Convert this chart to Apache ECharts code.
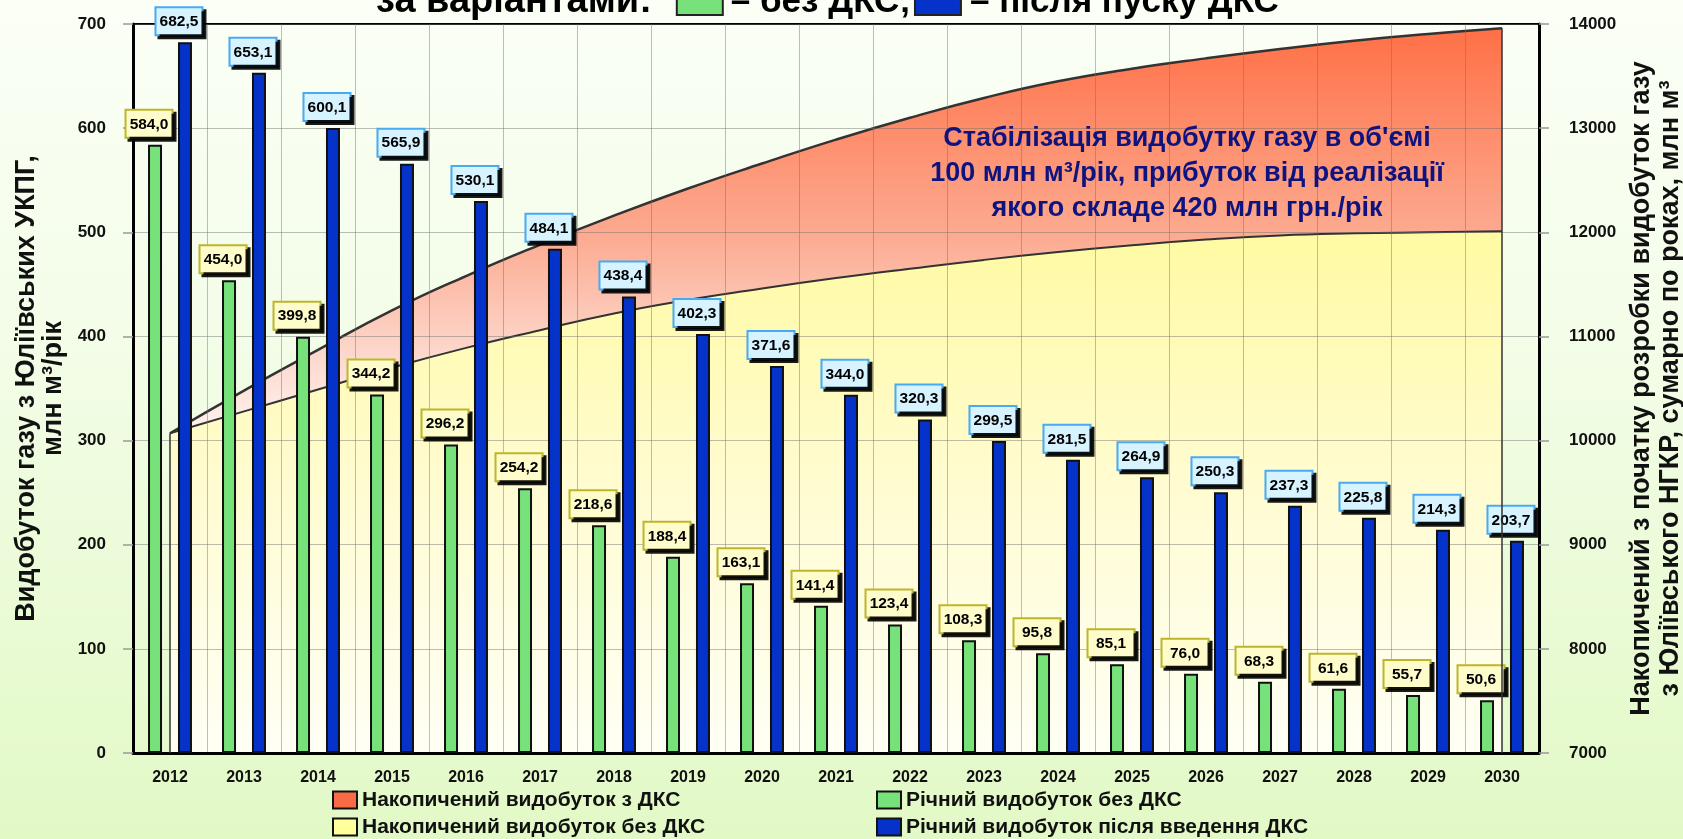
<!DOCTYPE html>
<html>
<head>
<meta charset="utf-8">
<script src="https://cdn.jsdelivr.net/npm/echarts@6.0.0/dist/echarts.min.js"></script>
<style>
  html, body { margin: 0; padding: 0; }
  body { background: linear-gradient(to bottom, #fbfff6 0%, #f3fde8 40%, #e2f9c6 100%); }
  #main { width: 1683px; height: 839px; }
</style>
</head>
<body>
<div id="main"></div>
<script>
var years = ['2012', '2013', '2014', '2015', '2016', '2017', '2018', '2019', '2020', '2021',
	'2022', '2023', '2024', '2025', '2026', '2027', '2028', '2029', '2030'];
// річний видобуток, млн м3/рік
var annualNoDks = [584.0, 454.0, 399.8, 344.2, 296.2, 254.2, 218.6, 188.4, 163.1, 141.4,
	123.4, 108.3, 95.8, 85.1, 76.0, 68.3, 61.6, 55.7, 50.6];
var annualDks = [682.5, 653.1, 600.1, 565.9, 530.1, 484.1, 438.4, 402.3, 371.6, 344.0,
	320.3, 299.5, 281.5, 264.9, 250.3, 237.3, 225.8, 214.3, 203.7];
// накопичений видобуток, млн м3 (права вісь)
var cumDks = [10070, 10480, 10870, 11250, 11580, 11880, 12160, 12420, 12660, 12890,
	13100, 13290, 13450, 13570, 13670, 13760, 13840, 13905, 13960];
var cumNoDks = [10070, 10280, 10490, 10700, 10890, 11060, 11220, 11350, 11460, 11560,
	11650, 11735, 11810, 11875, 11930, 11970, 11990, 12000, 12010];

var narrow = '"Liberation Sans Narrow", "Arial Narrow", "Liberation Sans", Arial';
var sans = '"Liberation Sans", Arial';

var myChart = echarts.init(document.getElementById('main'));

function fmt(p) {
	return p.value.toFixed(1).replace('.', ',');
}

function boxLabel(bg, border) {
	return {
		show: true,
		position: 'top',
		distance: 8,
		offset: [-6, 0],
		formatter: fmt,
		color: '#000',
		fontFamily: sans,
		fontWeight: 'bold',
		fontSize: 15.5,
		lineHeight: 19,
		width: 39,
		align: 'center',
		padding: [4, 3, 3, 3],
		backgroundColor: bg,
		borderColor: border,
		borderWidth: 2,
		shadowColor: 'rgba(0,0,0,0.9)',
		shadowOffsetX: 3,
		shadowOffsetY: 3,
		shadowBlur: 0
	};
}

var legendText = {fontFamily: narrow, fontWeight: 'bold', fontSize: 21, lineHeight: 22, color: '#111'};

var option = {
	backgroundColor: 'transparent',
	animation: false,
	title: {
		text: '{t1|за варіантами:}{s1| }{g| }{s2| }– без ДКС;{s3| }{b| }{s4| }– після пуску ДКС',
		left: 376,
		top: -16,
		padding: 0,
		textStyle: {
			fontFamily: narrow,
			fontWeight: 'bold',
			fontSize: 35,
			lineHeight: 36,
			color: '#000',
			rich: {
				t1: {fontFamily: narrow, fontWeight: 'bold', fontSize: 38, color: '#000'},
				s1: {width: 26},
				s2: {width: 9},
				s3: {width: 5},
				s4: {width: 10},
				g: {width: 44, height: 24, backgroundColor: '#78e27a', borderColor: '#222', borderWidth: 2},
				b: {width: 44, height: 24, backgroundColor: '#0532c8', borderColor: '#222', borderWidth: 2}
			}
		}
	},
	legend: [{
		left: 332,
		top: 789,
		height: 60,
		padding: 0,
		orient: 'vertical',
		icon: 'rect',
		itemWidth: 24,
		itemHeight: 17,
		itemGap: 5,
		itemStyle: {borderColor: '#111', borderWidth: 2},
		textStyle: legendText,
		data: ['Накопичений видобуток з ДКС', 'Накопичений видобуток без ДКС']
	}, {
		left: 876,
		top: 789,
		height: 60,
		padding: 0,
		orient: 'vertical',
		icon: 'rect',
		itemWidth: 24,
		itemHeight: 17,
		itemGap: 5,
		itemStyle: {borderColor: '#111', borderWidth: 2},
		textStyle: legendText,
		data: ['Річний видобуток без ДКС', 'Річний видобуток після введення ДКС']
	}],
	grid: {
		left: 133,
		right: 144,
		top: 24,
		bottom: 86,
		containLabel: false,
		outerBoundsMode: 'none',
		show: true,
		borderColor: '#000',
		borderWidth: 2,
		backgroundColor: 'transparent'
	},
	xAxis: {
		type: 'category',
		data: years,
		z: 1,
		axisLine: {lineStyle: {color: '#000', width: 3}},
		axisTick: {length: 9, lineStyle: {color: '#999', width: 1.5}},
		axisLabel: {color: '#111', fontFamily: sans, fontWeight: 'bold', fontSize: 16, margin: 17},
		splitLine: {show: true, lineStyle: {color: 'rgba(110,110,110,0.45)', width: 1}}
	},
	yAxis: [{
		type: 'value',
		min: 0,
		max: 700,
		interval: 100,
		z: 1,
		name: 'Видобуток газу з Юліївських УКПГ,\nмлн м³/рік',
		nameLocation: 'middle',
		nameRotate: 90,
		nameGap: 65,
		nameTextStyle: {color: '#111', fontFamily: sans, fontWeight: 'bold', fontSize: 27, lineHeight: 27},
		axisLine: {show: true, lineStyle: {color: '#000', width: 3}},
		axisTick: {show: true, length: 10, lineStyle: {color: '#999', width: 1.5}},
		axisLabel: {color: '#111', fontFamily: sans, fontWeight: 'bold', fontSize: 17, margin: 27},
		splitLine: {show: true, lineStyle: {color: 'rgba(110,110,110,0.45)', width: 1}}
	}, {
		type: 'value',
		min: 7000,
		max: 14000,
		interval: 1000,
		z: 1,
		position: 'right',
		name: 'Накопичений з початку розробки видобуток газу\nз Юліївського НГКР, сумарно по роках, млн м³',
		nameLocation: 'middle',
		nameRotate: 90,
		nameGap: 88,
		nameTextStyle: {color: '#111', fontFamily: sans, fontWeight: 'bold', fontSize: 27, lineHeight: 29},
		axisLine: {show: true, lineStyle: {color: '#000', width: 3}},
		axisTick: {show: true, length: 10, lineStyle: {color: '#999', width: 1.5}},
		axisLabel: {
			color: '#111', fontFamily: sans, fontWeight: 'bold', fontSize: 17, margin: 30,
			formatter: function (v) { return String(v); }
		},
		splitLine: {show: false}
	}],
	series: [{
		name: 'Накопичений видобуток з ДКС',
		type: 'line',
		yAxisIndex: 1,
		z: 0,
		smooth: true,
		showSymbol: false,
		silent: true,
		data: cumDks,
		itemStyle: {color: '#f86b45'},
		lineStyle: {color: '#333', width: 2.5},
		areaStyle: {
			origin: 'start',
			opacity: 1,
			color: new echarts.graphic.LinearGradient(0, 0, 0, 1, [
				{offset: 0, color: '#ff7046'},
				{offset: 0.28, color: '#fca98f'},
				{offset: 0.45, color: '#fcd8cc'},
				{offset: 0.56, color: '#fff3ee'},
				{offset: 1, color: '#ffffff'}
			])
		},
		markLine: {
			silent: true,
			symbol: ['none', 'none'],
			label: {show: false},
			lineStyle: {color: '#333', width: 1.5, type: 'solid'},
			data: [
				[{coord: [years[0], 7000]}, {coord: [years[0], cumDks[0]]}],
				[{coord: [years[18], 7000]}, {coord: [years[18], cumDks[18]]}]
			]
		}
	}, {
		name: 'Накопичений видобуток без ДКС',
		type: 'line',
		yAxisIndex: 1,
		z: 0,
		smooth: true,
		showSymbol: false,
		silent: true,
		data: cumNoDks,
		itemStyle: {color: '#ffff9c'},
		lineStyle: {color: '#333', width: 2},
		areaStyle: {
			origin: 'start',
			opacity: 1,
			color: new echarts.graphic.LinearGradient(0, 0, 0, 1, [
				{offset: 0, color: '#fffaa2'},
				{offset: 0.5, color: '#fffcd2'},
				{offset: 1, color: '#fffff5'}
			])
		}
	}, {
		name: 'Річний видобуток без ДКС',
		type: 'bar',
		z: 2,
		barWidth: 14,
		barGap: '114%',
		data: annualNoDks,
		itemStyle: {color: '#78e27a', borderColor: '#111', borderWidth: 2},
		label: boxLabel('#fffccc', '#bdb52a')
	}, {
		name: 'Річний видобуток після введення ДКС',
		type: 'bar',
		z: 2,
		barWidth: 14,
		data: annualDks,
		itemStyle: {color: '#0532c8', borderColor: '#111', borderWidth: 2},
		label: boxLabel('#d6f3ff', '#48aaf2')
	}],
	graphic: [{
		type: 'text',
		x: 1187,
		y: 174,
		z: 100,
		silent: true,
		style: {
			text: 'Стабілізація видобутку газу в об\'ємі\n100 млн м³/рік, прибуток від реалізації\nякого складе 420 млн грн./рік',
			fill: '#0d137f',
			font: 'bold 27px "Liberation Sans", Arial',
			lineHeight: 35,
			align: 'center',
			verticalAlign: 'middle'
		}
	}]
};
myChart.setOption(option);
</script>
</body>
</html>
